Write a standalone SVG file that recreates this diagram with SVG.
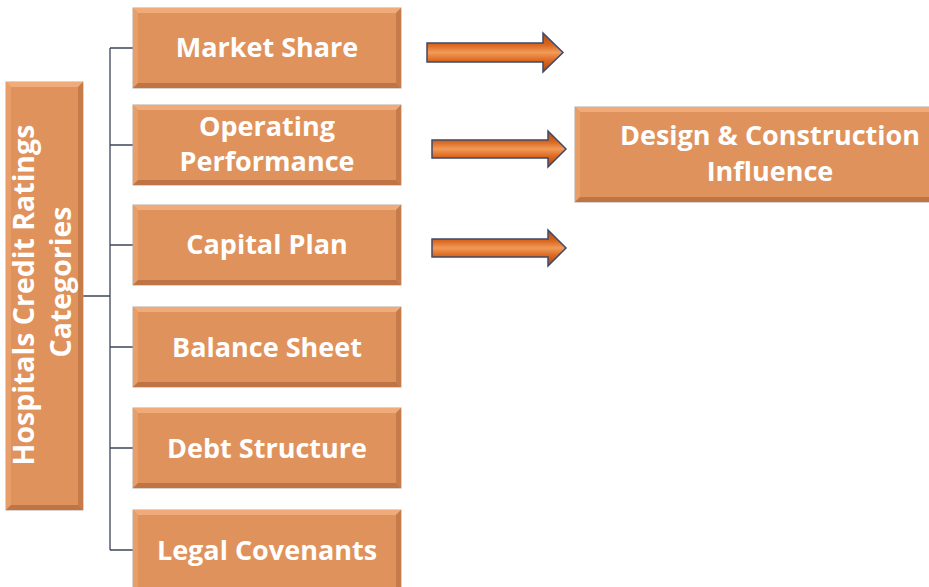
<svg xmlns="http://www.w3.org/2000/svg" width="929" height="587" viewBox="0 0 929 587">
<style>
.base{fill:#E0925C;stroke:#B9A89C;stroke-width:1}
.bt{fill:#EFAB79}
.bl{fill:#E89E69}
.br{fill:#C57B4A}
.bb{fill:#BE7444}
.lbl{font-family:"Open Sans","Liberation Sans",sans-serif;font-weight:bold;font-size:27px;fill:#FFFFFF;text-anchor:middle}
.big{font-size:28.5px}
.con{fill:none;stroke:#3E4658;stroke-width:1.3}
.arr{fill:url(#ag);stroke:#3F4868;stroke-width:1.5;stroke-linejoin:miter}
</style>
<defs>
<linearGradient id="ag" x1="0" y1="0" x2="0" y2="1">
<stop offset="0" stop-color="#A94A14"/>
<stop offset="0.3" stop-color="#D9671F"/>
<stop offset="0.5" stop-color="#F29A58"/>
<stop offset="0.7" stop-color="#DD6A22"/>
<stop offset="1" stop-color="#A34612"/>
</linearGradient>
</defs>
<rect width="929" height="587" fill="#FFFFFF"/>

<g id="connectors">
<path class="con" d="M83,296 H110 M110,48 V550 M110,48 H133 M110,145 H133 M110,245 H133 M110,347 H133 M110,448 H133 M110,550 H133"/>
</g>

<g id="categories">
<rect class="base" x="6" y="82" width="77" height="428"/>
<path class="bt" d="M6,82 h77 l-5,5 h-67 z"/>
<path class="bl" d="M6,82 l5,5 v418 l-5,5 z"/>
<path class="br" d="M83,82 v428 l-5,-5 v-418 z"/>
<path class="bb" d="M6,510 l5,-5 h67 l5,5 z"/>
<text class="lbl big" transform="translate(34,295) rotate(-90)"><tspan x="0" y="0">Hospitals Credit Ratings</tspan><tspan x="13" y="37">Categories</tspan></text>
</g>

<g id="market-share">
<rect class="base" x="133" y="8" width="268" height="80"/>
<path class="bt" d="M133,8 h268 l-5,5 h-258 z"/>
<path class="bl" d="M133,8 l5,5 v70 l-5,5 z"/>
<path class="br" d="M401,8 v80 l-5,-5 v-70 z"/>
<path class="bb" d="M133,88 l5,-5 h258 l5,5 z"/>
<text class="lbl" x="267" y="57">Market Share</text>
</g>

<g id="operating-performance">
<rect class="base" x="133" y="105" width="268" height="80"/>
<path class="bt" d="M133,105 h268 l-5,5 h-258 z"/>
<path class="bl" d="M133,105 l5,5 v70 l-5,5 z"/>
<path class="br" d="M401,105 v80 l-5,-5 v-70 z"/>
<path class="bb" d="M133,185 l5,-5 h258 l5,5 z"/>
<text class="lbl" x="267" y="136">Operating</text>
<text class="lbl" x="267" y="171">Performance</text>
</g>

<g id="capital-plan">
<rect class="base" x="133" y="205" width="268" height="80"/>
<path class="bt" d="M133,205 h268 l-5,5 h-258 z"/>
<path class="bl" d="M133,205 l5,5 v70 l-5,5 z"/>
<path class="br" d="M401,205 v80 l-5,-5 v-70 z"/>
<path class="bb" d="M133,285 l5,-5 h258 l5,5 z"/>
<text class="lbl" x="267" y="254">Capital Plan</text>
</g>

<g id="balance-sheet">
<rect class="base" x="133" y="307" width="268" height="80"/>
<path class="bt" d="M133,307 h268 l-5,5 h-258 z"/>
<path class="bl" d="M133,307 l5,5 v70 l-5,5 z"/>
<path class="br" d="M401,307 v80 l-5,-5 v-70 z"/>
<path class="bb" d="M133,387 l5,-5 h258 l5,5 z"/>
<text class="lbl" x="267" y="357">Balance Sheet</text>
</g>

<g id="debt-structure">
<rect class="base" x="133" y="408" width="268" height="80"/>
<path class="bt" d="M133,408 h268 l-5,5 h-258 z"/>
<path class="bl" d="M133,408 l5,5 v70 l-5,5 z"/>
<path class="br" d="M401,408 v80 l-5,-5 v-70 z"/>
<path class="bb" d="M133,488 l5,-5 h258 l5,5 z"/>
<text class="lbl" x="267" y="458">Debt Structure</text>
</g>

<g id="legal-covenants">
<rect class="base" x="133" y="510" width="268" height="82"/>
<path class="bt" d="M133,510 h268 l-5,5 h-258 z"/>
<path class="bl" d="M133,510 l5,5 v72 l-5,5 z"/>
<path class="br" d="M401,510 v82 l-5,-5 v-72 z"/>
<text class="lbl" x="267" y="560">Legal Covenants</text>
</g>

<g id="design-construction">
<rect class="base" x="575" y="107" width="360" height="95"/>
<path class="bt" d="M575,107 h360 l-5,5 h-350 z"/>
<path class="bl" d="M575,107 l5,5 v85 l-5,5 z"/>
<path class="bb" d="M575,202 l5,-5 h350 l5,5 z"/>
<text class="lbl" x="770" y="145">Design &amp; Construction</text>
<text class="lbl" x="770" y="181">Influence</text>
</g>

<g id="arrows">
<path class="arr" d="M427,43 H543 V33 L563,52.5 L543,72 V62 H427 Z"/>
<path class="arr" d="M432,140 H548 V131 L566,149 L548,167 V158 H432 Z"/>
<path class="arr" d="M432,239 H548 V230 L566,248 L548,266 V257 H432 Z"/>
</g>
</svg>
